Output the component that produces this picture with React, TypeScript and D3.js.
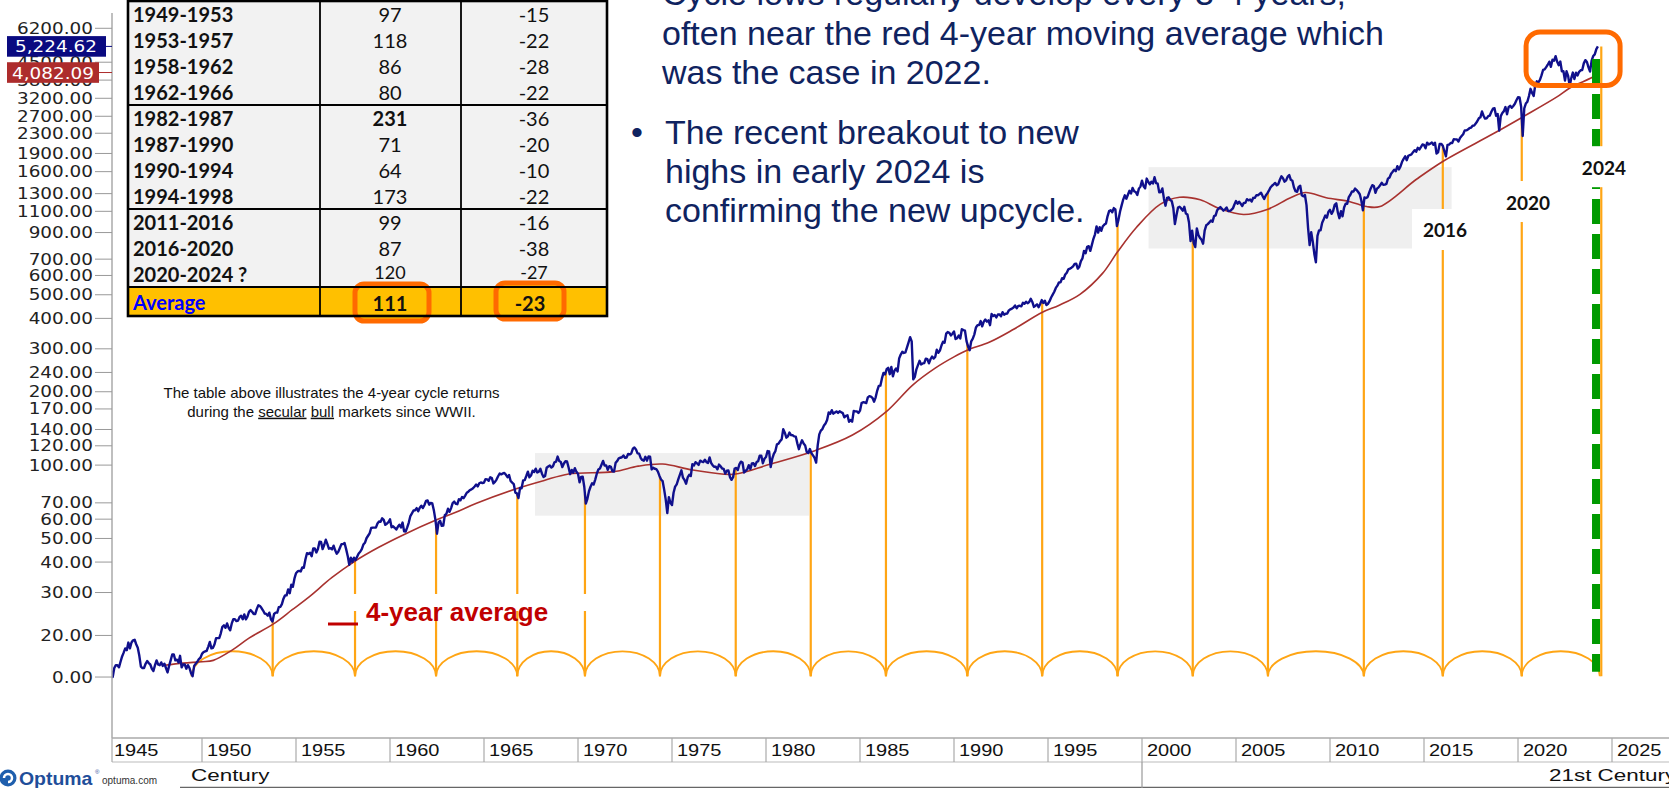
import React from "react";
import * as d3 from "d3";

const W = 1669;
const H = 788;

// ---------- S&P 500 monthly values ----------
const spx1940s = [
  13.5, 14.3, 13.5, 14.7, 15.1, 15.1, 14.8, 15.6, 16.4, 17.0, 17.7, 17.4,
  18.7, 17.7, 18.7, 19.1, 19.2, 18.4, 17.8, 16.5, 14.9, 14.7, 14.7, 15.3,
  15.7, 15.4, 15.2, 14.6, 14.3, 15.1, 15.8, 15.2, 15.1, 15.5, 15.0, 15.3,
  14.7, 14.1, 15.0, 15.8, 16.7, 16.7, 15.8, 15.9, 15.5, 16.5, 14.8, 15.2,
  15.2, 14.6, 15.1, 14.7, 14.0, 13.6, 15.0, 15.3, 15.6, 16.0, 16.2, 16.8,
];
const spx1950s = [
  17.1, 17.2, 17.3, 18.0, 18.8, 17.7, 17.8, 18.4, 19.5, 19.5, 19.5, 20.4,
  21.7, 22.0, 21.5, 22.4, 21.5, 21.0, 22.4, 23.3, 23.3, 22.9, 23.0, 23.8,
  24.1, 23.3, 24.4, 23.3, 23.9, 25.0, 25.4, 25.0, 24.5, 24.5, 25.7, 26.6,
  26.4, 25.9, 25.3, 24.6, 24.5, 24.1, 24.8, 23.3, 22.8, 24.5, 24.8, 24.8,
  26.1, 26.2, 26.9, 28.3, 29.2, 29.2, 30.9, 29.8, 32.3, 31.7, 34.2, 36.0,
  36.6, 36.8, 36.6, 38.0, 37.9, 41.0, 43.5, 43.2, 43.7, 42.3, 45.5, 45.5,
  43.8, 45.3, 48.5, 48.4, 45.2, 47.0, 49.4, 47.5, 45.4, 45.6, 45.1, 46.7,
  44.7, 43.3, 44.1, 45.7, 47.4, 47.4, 47.9, 45.2, 42.4, 39.0, 41.7, 40.0,
  41.7, 40.8, 42.1, 43.4, 44.1, 45.2, 47.2, 48.0, 50.1, 51.3, 52.5, 55.2,
  55.4, 55.4, 55.4, 57.6, 58.7, 58.5, 60.5, 59.6, 56.9, 57.5, 58.3, 59.9,
];
const spx1960s = [
  55.6, 56.1, 55.3, 54.4, 55.8, 56.9, 55.5, 58.1, 53.5, 53.4, 55.5, 58.1,
  61.8, 63.4, 65.1, 65.3, 66.6, 64.6, 66.8, 68.1, 66.7, 68.6, 71.3, 71.6,
  68.8, 70.0, 69.6, 65.2, 59.6, 52.3, 58.2, 59.1, 56.3, 56.5, 62.3, 63.1,
  66.2, 64.3, 66.6, 69.8, 70.8, 69.4, 69.1, 72.5, 71.7, 74.0, 73.2, 75.0,
  77.0, 77.8, 79.0, 79.5, 80.4, 81.7, 83.2, 81.8, 84.2, 84.9, 84.4, 84.8,
  87.6, 87.4, 86.2, 89.1, 88.4, 84.1, 85.3, 87.2, 90.0, 92.4, 91.6, 92.4,
  92.9, 91.2, 89.2, 91.1, 86.1, 84.7, 83.6, 77.1, 76.6, 73.2, 80.5, 80.3,
  86.6, 86.8, 90.2, 94.0, 89.1, 90.6, 94.8, 93.6, 96.7, 93.3, 94.0, 96.5,
  92.2, 89.4, 90.2, 97.6, 98.7, 99.6, 97.7, 98.9, 102.7, 103.4, 108.4, 103.9,
  103.0, 98.1, 101.5, 103.7, 103.5, 97.7, 91.8, 95.5, 93.1, 97.1, 93.8, 92.1,
];
const spx1970s = [
  85.0, 89.5, 89.6, 81.5, 69.5, 72.7, 78.1, 81.5, 84.2, 83.3, 87.2, 92.2,
  95.9, 96.8, 100.3, 104.0, 99.6, 99.7, 95.6, 99.0, 98.3, 94.2, 94.0, 102.1,
  103.9, 106.6, 107.2, 107.7, 109.5, 107.1, 107.4, 111.1, 110.6, 111.6, 116.7, 118.1,
  116.0, 111.7, 111.5, 107.0, 105.0, 104.3, 108.2, 104.3, 108.4, 108.3, 96.0, 97.6,
  96.6, 96.2, 94.0, 90.3, 87.3, 86.0, 79.3, 72.2, 63.5, 73.9, 70.0, 68.6,
  77.0, 81.6, 83.4, 87.3, 91.2, 95.2, 88.8, 86.9, 83.9, 89.0, 91.2, 90.2,
  100.9, 99.7, 102.8, 101.6, 100.2, 104.3, 103.4, 102.9, 105.2, 102.9, 102.1, 107.5,
  102.0, 99.8, 98.4, 98.4, 96.1, 100.5, 98.9, 96.8, 96.5, 92.3, 94.8, 95.1,
  89.3, 87.0, 89.2, 96.8, 97.3, 95.5, 100.7, 103.3, 102.5, 93.2, 94.7, 96.1,
  99.9, 96.3, 101.6, 101.8, 99.1, 102.9, 103.8, 109.3, 109.3, 101.8, 106.2, 107.9,
];
const spx1980s = [
  114.2, 113.7, 98.2, 106.3, 111.2, 114.2, 121.7, 122.4, 125.5, 127.5, 140.5, 135.8,
  129.6, 131.3, 136.0, 132.8, 132.6, 131.2, 130.9, 122.8, 116.2, 121.9, 126.4, 122.6,
  120.4, 113.1, 112.0, 116.4, 111.9, 109.6, 107.1, 102.4, 120.4, 133.7, 138.5, 140.6,
  145.3, 148.1, 153.0, 164.4, 162.4, 168.1, 162.6, 164.4, 166.1, 163.6, 166.4, 164.9,
  163.4, 157.1, 159.2, 160.1, 150.6, 153.2, 150.7, 166.7, 166.1, 166.1, 163.6, 167.2,
  179.6, 181.2, 180.7, 179.8, 189.6, 191.9, 190.9, 188.6, 182.1, 189.8, 202.2, 211.3,
  211.8, 226.9, 238.9, 235.5, 247.4, 250.8, 236.1, 252.9, 231.3, 244.0, 249.2, 242.2,
  274.1, 284.2, 291.7, 288.4, 290.1, 304.0, 318.7, 335.0, 321.8, 224.8, 230.3, 247.1,
  257.1, 267.8, 258.9, 261.3, 262.2, 273.5, 272.0, 261.5, 271.9, 279.0, 273.7, 277.7,
  297.5, 288.9, 294.9, 309.6, 320.5, 318.0, 346.1, 351.5, 349.2, 340.4, 346.0, 353.4,
];
const spx1990s = [
  329.1, 331.9, 339.9, 330.8, 361.2, 358.0, 356.2, 322.6, 306.1, 296.0, 322.2, 330.2,
  343.9, 367.1, 375.2, 375.3, 389.8, 371.2, 387.8, 395.4, 387.9, 392.5, 375.2, 417.1,
  408.8, 412.7, 403.7, 415.0, 415.4, 408.1, 424.2, 414.0, 417.8, 418.7, 431.4, 435.7,
  438.8, 443.4, 451.7, 440.2, 450.2, 450.5, 448.1, 463.6, 458.9, 467.8, 461.8, 466.5,
  481.6, 467.1, 445.8, 450.9, 456.5, 444.3, 458.3, 475.5, 462.7, 472.4, 453.7, 459.3,
  470.4, 487.4, 500.7, 514.7, 533.4, 544.8, 562.1, 561.9, 584.4, 581.5, 605.4, 615.9,
  636.0, 640.4, 645.5, 654.2, 669.1, 670.6, 640.0, 652.0, 687.3, 705.3, 757.0, 740.7,
  786.2, 790.8, 757.1, 801.3, 848.3, 885.1, 954.3, 899.5, 947.3, 914.6, 955.4, 970.4,
  980.3, 1049.3, 1101.8, 1111.8, 1090.8, 1133.8, 1120.7, 957.3, 1017.0, 1098.7, 1163.6, 1229.2,
  1279.6, 1238.3, 1286.4, 1335.2, 1301.8, 1372.7, 1328.7, 1320.4, 1282.7, 1362.9, 1388.9, 1469.3,
];
const spx2000s = [
  1394.5, 1366.4, 1498.6, 1452.4, 1420.6, 1454.6, 1430.8, 1517.7, 1436.5, 1429.4, 1315.2, 1320.3,
  1366.0, 1239.9, 1160.3, 1249.5, 1255.8, 1224.4, 1211.2, 1133.6, 975.0, 1059.8, 1139.5, 1148.1,
  1130.2, 1106.7, 1147.4, 1076.9, 1067.1, 989.8, 830.0, 916.1, 815.3, 785.0, 936.3, 879.8,
  855.7, 841.2, 810.0, 916.9, 963.6, 974.5, 990.3, 1008.0, 996.0, 1050.7, 1058.2, 1111.9,
  1131.1, 1144.9, 1126.2, 1107.3, 1120.7, 1140.8, 1101.7, 1104.2, 1114.6, 1130.2, 1173.8, 1211.9,
  1181.3, 1203.6, 1180.6, 1156.9, 1191.5, 1191.3, 1234.2, 1220.3, 1228.8, 1207.0, 1249.5, 1248.3,
  1280.1, 1280.7, 1294.9, 1310.6, 1270.1, 1235.0, 1276.7, 1303.8, 1335.9, 1377.9, 1400.6, 1418.3,
  1438.2, 1406.8, 1420.9, 1482.4, 1530.6, 1503.4, 1455.3, 1474.0, 1526.8, 1549.4, 1481.1, 1468.4,
  1378.6, 1330.6, 1322.7, 1385.6, 1400.4, 1280.0, 1267.4, 1282.8, 1166.4, 940.0, 800.0, 903.3,
  825.9, 735.1, 680.0, 872.8, 919.1, 919.3, 987.5, 1020.6, 1057.1, 1036.2, 1095.6, 1115.1,
];
const spx2010s = [
  1073.9, 1104.5, 1169.4, 1186.7, 1089.4, 1030.7, 1101.6, 1049.3, 1141.2, 1183.3, 1180.6, 1257.6,
  1286.1, 1327.2, 1325.8, 1363.6, 1345.2, 1320.6, 1292.3, 1218.9, 1110.0, 1253.3, 1246.9, 1257.6,
  1312.4, 1365.7, 1408.5, 1397.9, 1310.3, 1362.2, 1379.3, 1406.6, 1440.7, 1412.2, 1416.2, 1426.2,
  1498.1, 1514.7, 1569.2, 1597.6, 1630.7, 1606.3, 1685.7, 1633.0, 1681.6, 1756.5, 1805.8, 1848.4,
  1782.6, 1859.5, 1872.3, 1884.0, 1923.6, 1960.2, 1930.7, 2003.4, 1972.3, 2018.1, 2067.6, 2058.9,
  1995.0, 2104.5, 2067.9, 2085.5, 2107.4, 2063.1, 2103.8, 1900.0, 1920.0, 2079.4, 2080.4, 2043.9,
  1940.2, 1850.0, 2059.7, 2065.3, 2097.0, 2098.9, 2173.6, 2171.0, 2168.3, 2126.2, 2198.8, 2238.8,
  2278.9, 2363.6, 2362.7, 2384.2, 2411.8, 2423.4, 2470.3, 2471.7, 2519.4, 2575.3, 2647.6, 2673.6,
  2823.8, 2713.8, 2640.9, 2648.1, 2705.3, 2718.4, 2816.3, 2901.5, 2914.0, 2711.7, 2760.2, 2360.0,
  2704.1, 2784.5, 2834.4, 2945.8, 2752.1, 2941.8, 2980.4, 2926.5, 2976.7, 3037.6, 3141.2, 3230.8,
];
const spx2020s = [
  3225.5, 2954.2, 2240.0, 2912.4, 3044.3, 3100.3, 3271.1, 3500.3, 3363.0, 3270.0, 3621.6, 3756.1,
  3714.2, 3811.2, 3972.9, 4181.2, 4204.1, 4297.5, 4395.3, 4522.7, 4307.5, 4605.4, 4567.0, 4766.2,
  4515.6, 4373.9, 4530.4, 4131.9, 4132.2, 3785.4, 4130.3, 3955.0, 3585.6, 3872.0, 4080.1, 3839.5,
  4076.6, 3970.2, 4109.3, 4169.5, 4179.8, 4450.4, 4589.0, 4507.7, 4288.1, 4120.0, 4567.8, 4769.8,
  4845.7, 5096.3, 5224.62,
];
const decadeStartYears = [1945, 1950, 1960, 1970, 1980, 1990, 2000, 2010, 2020];
const decadeSeries = [spx1940s, spx1950s, spx1960s, spx1970s, spx1980s, spx1990s, spx2000s, spx2010s, spx2020s];

// ---------- 4-year moving average ----------
const maYears = [
  1948.0, 1949.0, 1950.0, 1950.6, 1951.6, 1952.5, 1953.8, 1954.8, 1955.7, 1956.9,
  1958.1, 1959.4, 1960.7, 1962.45, 1963.5, 1964.6, 1966.8, 1968.2, 1969.5, 1971.9,
  1973.2, 1974.5, 1976.1, 1978.3, 1980.2, 1982.6, 1984.6, 1986.4, 1987.8, 1989.0,
  1990.0, 1990.7, 1991.9, 1993.15, 1994.7, 1995.6, 1996.7, 1997.9, 1998.7, 1999.7,
  2000.96, 2002.0, 2003.1, 2004.1, 2005.4, 2006.7, 2007.9, 2008.7, 2009.8, 2011.06,
  2011.94, 2012.66, 2014.6, 2016.0, 2018.7, 2020.3, 2022.05, 2022.8, 2024.1, 2024.25,
];
const maValues = [
  15.1, 15.4, 15.6, 15.8, 17.4, 19.5, 22.3, 25.5, 28.8, 34.5,
  40.2, 46, 51.7, 59.5, 64, 69.7, 80.3, 86.5, 92, 94,
  99, 101, 95.5, 91.7, 100.8, 114.6, 132.8, 165.7, 213, 250,
  278, 296, 320, 360, 424, 453, 502, 612, 750, 944,
  1175, 1256, 1226, 1130, 1067, 1122, 1250, 1314, 1250, 1205,
  1151, 1151, 1489, 1762, 2293, 2696, 3234, 3544, 3960, 4082,
];

// ---------- cycle lows ----------
const cycleYears = [
  1949.45, 1953.76, 1958.14, 1962.45, 1966.77, 1970.37, 1974.36, 1978.39, 1982.38, 1986.38,
  1990.71, 1994.69, 1998.7, 2002.7, 2006.7, 2011.8, 2016.0, 2020.2, 2024.35,
];
const cycleLabels = ["2016", "2020", "2024"];
const cycleLabelYears = [2016.12, 2020.53, 2024.57];
const cycleLabelValues = [922, 1201, 1669];

// ---------- axes ----------
const yTickValues = [6200, 4500, 3800, 3200, 2700, 2300, 1900, 1600, 1300, 1100, 900, 700, 600, 500, 400, 300, 240, 200, 170, 140, 120, 100, 70, 60, 50, 40, 30, 20, 13.5];
const yTickLabels = ["6200.00", "4500.00", "3800.00", "3200.00", "2700.00", "2300.00", "1900.00", "1600.00", "1300.00", "1100.00", "900.00", "700.00", "600.00", "500.00", "400.00", "300.00", "240.00", "200.00", "170.00", "140.00", "120.00", "100.00", "70.00", "60.00", "50.00", "40.00", "30.00", "20.00", "0.00"];
const xTickYears = [1945, 1950, 1955, 1960, 1965, 1970, 1975, 1980, 1985, 1990, 1995, 2000, 2005, 2010, 2015, 2020, 2025];
const lastPriceLabel = "5,224.62";
const lastMaLabel = "4,082.09";
const lastPrice = 5224.62;
const lastMa = 4082.09;

// ---------- table ----------
const tablePeriods = ["1949-1953", "1953-1957", "1958-1962", "1962-1966", "1982-1987", "1987-1990", "1990-1994", "1994-1998", "2011-2016", "2016-2020", "2020-2024 ?"];
const tableGains = ["97", "118", "86", "80", "231", "71", "64", "173", "99", "87", "120"];
const tableDeclines = ["-15", "-22", "-28", "-22", "-36", "-20", "-10", "-22", "-16", "-38", "-27"];
const tableGroups = [4, 4, 3];
const avgGain = "111";
const avgDecline = "-23";

// shaded consolidation zones
const zoneStarts = [1967.71, 2000.35];
const zoneEnds = [1982.29, 2016.47];
const zoneLows = [62, 774];
const zoneHighs = [112, 1670];

const NAVY_TEXT = "#0f2360";
const ORANGE = "#FFA514";

function SText(props: any) {
  const { x, y, sx = 1, anchor = "start", children, ...rest } = props;
  return (
    <text transform={`translate(${x},${y}) scale(${sx},1)`} textAnchor={anchor} {...rest}>
      {children}
    </text>
  );
}

export default function App() {
  const x = d3.scaleLinear().domain([1950, 2000]).range([202, 1142]);
  const y = d3.scaleLog().domain([100, 1000]).range([465.1, 221.4]);

  const price: [number, number][] = [];
  decadeSeries.forEach((arr, k) => {
    arr.forEach((v, i) => price.push([decadeStartYears[k] + (i + 1) / 12, v]));
  });
  const ma: [number, number][] = maYears.map((t, i) => [t, maValues[i]]);

  const priceLine = d3.line<[number, number]>().x((d) => x(d[0])).y((d) => y(d[1]));
  const maLine = d3
    .line<[number, number]>()
    .x((d) => x(d[0]))
    .y((d) => y(d[1]))
    .curve(d3.curveCatmullRom.alpha(0.5));

  const bis = d3.bisector((d: [number, number]) => d[0]).left;
  const priceAt = (t: number) => {
    const i = bis(price, t);
    if (i <= 0) return price[0][1];
    if (i >= price.length) return price[price.length - 1][1];
    const a = price[i - 1];
    const b = price[i];
    const f = (t - a[0]) / (b[0] - a[0]);
    return Math.exp(Math.log(a[1]) * (1 - f) + Math.log(b[1]) * f);
  };

  const baseY = y(13.6);
  const arcH = 25;
  const axisX = 112;
  const plotBottom = 738;

  // table geometry
  const tX = [128, 320, 461, 607];
  const rowH = 26;
  const tTop = 1;
  const rowYs: number[] = [];
  const groupLines: number[] = [];
  let cy = tTop;
  tableGroups.forEach((n) => {
    for (let i = 0; i < n; i++) {
      rowYs.push(cy + rowH * (i + 0.5));
    }
    cy += n * rowH;
    groupLines.push(cy);
  });
  const avgTop = cy;
  const avgBottom = cy + 29;

  const tableFont = "Lato, 'Open Sans', sans-serif";
  const axisFont = "'DejaVu Sans', Verdana, sans-serif";
  const arial = "'Liberation Sans', Arial, sans-serif";

  return (
    <svg
      width={W}
      height={H}
      style={{ position: "absolute", left: 0, top: 0, background: "#fff" }}
      fontFamily={arial}
    >
      <defs>
        <clipPath id="plot">
          <rect x={axisX} y={0} width={W - axisX} height={plotBottom} />
        </clipPath>
      </defs>

      <g clipPath="url(#plot)">
        {zoneStarts.map((s, i) => (
          <rect
            key={"z" + i}
            x={x(s)}
            y={y(zoneHighs[i])}
            width={x(zoneEnds[i]) - x(s)}
            height={y(zoneLows[i]) - y(zoneHighs[i])}
            fill="#efefef"
          />
        ))}

        {cycleYears.slice(0, -1).map((t, i) => {
          const x0 = x(t);
          const x1 = x(cycleYears[i + 1]);
          const rx = (x1 - x0) / 2;
          return (
            <path
              key={"a" + i}
              d={`M${x0},${baseY} A${rx},${arcH} 0 0 1 ${x1},${baseY}`}
              fill="none"
              stroke={ORANGE}
              strokeWidth={1.8}
            />
          );
        })}
        {cycleYears.map((t, i) => (
          <line
            key={"v" + i}
            x1={x(t) + (i === cycleYears.length - 1 ? 1.5 : 0)}
            x2={x(t) + (i === cycleYears.length - 1 ? 1.5 : 0)}
            y1={baseY}
            y2={y(priceAt(t))}
            stroke={ORANGE}
            strokeWidth={2.2}
          />
        ))}

        <rect x={325} y={594} width={268} height={17} fill="#fff" />

        <path d={maLine(ma) || ""} fill="none" stroke="#a8322f" strokeWidth={1.6} />
        <path d={priceLine(price) || ""} fill="none" stroke="#10108c" strokeWidth={2.4} strokeLinejoin="round" />

        <line
          x1={x(2024.15)}
          x2={x(2024.15)}
          y1={y(4640)}
          y2={y(14.2)}
          stroke="#009a00"
          strokeWidth={8}
          strokeDasharray="25 10"
        />

        {cycleLabels.map((lab, i) => {
          const cx = x(cycleLabelYears[i]);
          const cyy = y(cycleLabelValues[i]);
          const w = i === 0 ? 68 : 48;
          return (
            <g key={"cl" + i}>
              <rect x={i === 0 ? cx - 33 : cx - w / 2} y={cyy - 21} width={w} height={41} fill="#fff" />
              <text
                x={cx}
                y={cyy}
                textAnchor="middle"
                dominantBaseline="central"
                fontFamily={tableFont}
                fontWeight={700}
                fontSize={19}
                fill="#111"
              >
                {lab}
              </text>
            </g>
          );
        })}

        <rect
          x={x(2020.43)}
          y={y(5987)}
          width={x(2025.43) - x(2020.43)}
          height={y(3612) - y(5987)}
          rx={14}
          fill="none"
          stroke="#ff6a00"
          strokeWidth={5}
        />
      </g>

      <line x1={328} x2={358} y1={624} y2={624} stroke="#c00000" strokeWidth={3} />
      <text x={366} y={621} fontSize={26} fontWeight={700} fill="#c00000">
        4-year average
      </text>

      <text x={331.5} y={398} fontSize={15} textAnchor="middle" fill="#111">
        The table above illustrates the 4-year cycle returns
      </text>
      <text x={331.5} y={416.7} fontSize={15} textAnchor="middle" fill="#111">
        during the <tspan style={{ textDecoration: "underline" }}>secular</tspan>{" "}
        <tspan style={{ textDecoration: "underline" }}>bull</tspan> markets since WWII.
      </text>

      <g fontSize={34} fill={NAVY_TEXT}>
        <text x={662} y={5}>Cycle lows regularly develop every 3-4 years,</text>
        <text x={662} y={44.5}>often near the red 4-year moving average which</text>
        <text x={662} y={84.3}>was the case in 2022.</text>
        <text x={631} y={144.3}>•</text>
        <text x={665} y={144.3}>The recent breakout to new</text>
        <text x={665} y={183.3}>highs in early 2024 is</text>
        <text x={665} y={222.3}>confirming the new upcycle.</text>
      </g>

      <g fontFamily={tableFont}>
        <rect x={tX[0]} y={tTop} width={tX[3] - tX[0]} height={avgTop - tTop} fill="#f2f2f2" />
        <rect x={tX[0]} y={avgTop} width={tX[3] - tX[0]} height={avgBottom - avgTop} fill="#ffc000" />
        <rect x={355} y={284} width={74} height={37} rx={9} fill="#ffc000" stroke="#ff6a00" strokeWidth={5} />
        <rect x={496} y={283} width={68} height={36} rx={9} fill="#ffc000" stroke="#ff6a00" strokeWidth={5} />
        {groupLines.map((gy, i) => (
          <line key={"gl" + i} x1={tX[0]} x2={tX[3]} y1={gy} y2={gy} stroke="#000" strokeWidth={2.2} />
        ))}
        {[1, 2].map((c) => (
          <line key={"vc" + c} x1={tX[c]} x2={tX[c]} y1={tTop} y2={avgBottom} stroke="#000" strokeWidth={1.8} />
        ))}
        <rect
          x={tX[0]}
          y={tTop}
          width={tX[3] - tX[0]}
          height={avgBottom - tTop}
          fill="none"
          stroke="#000"
          strokeWidth={2.6}
        />
        {tablePeriods.map((p, i) => {
          const last = i === tablePeriods.length - 1;
          return (
            <g key={"r" + i} dominantBaseline="central" fill="#111">
              <text x={133} y={rowYs[i]} fontWeight={700} fontSize={20}>
                {p}
              </text>
              <text
                x={390}
                y={rowYs[i] - (last ? 2 : 0)}
                textAnchor="middle"
                fontWeight={tableGains[i] === "231" ? 700 : 400}
                fontSize={last ? 18 : 20}
              >
                {tableGains[i]}
              </text>
              <text x={534} y={rowYs[i] - (last ? 2 : 0)} textAnchor="middle" fontSize={last ? 18 : 20}>
                {tableDeclines[i]}
              </text>
            </g>
          );
        })}
        <g dominantBaseline="central" fontWeight={700} fontSize={20}>
          <text x={133} y={(avgTop + avgBottom) / 2} fill="#0000ff">
            Average
          </text>
          <text x={390} y={(avgTop + avgBottom) / 2 + 1} textAnchor="middle" fill="#111">
            {avgGain}
          </text>
          <text x={530} y={(avgTop + avgBottom) / 2 + 1} textAnchor="middle" fill="#111">
            {avgDecline}
          </text>
        </g>
      </g>

      <line x1={axisX} x2={axisX} y1={13} y2={plotBottom} stroke="#aaa" strokeWidth={1.5} />
      {yTickValues.map((v, i) => (
        <g key={"yt" + i}>
          <line x1={95} x2={axisX} y1={y(v)} y2={y(v)} stroke="#999" strokeWidth={1} />
          <SText x={93} y={y(v) + 5.5} sx={1.15} anchor="end" fontFamily={axisFont} fontSize={16} fill="#222">
            {yTickLabels[i]}
          </SText>
        </g>
      ))}
      <rect x={7} y={y(lastPrice) - 10.3} width={99} height={20.6} fill="#0a0a80" />
      <line x1={106} x2={axisX} y1={y(lastPrice)} y2={y(lastPrice)} stroke="#0a0a80" strokeWidth={1} />
      <SText x={56} y={y(lastPrice) + 6} sx={1.15} anchor="middle" fontFamily={axisFont} fontSize={16} fill="#fff">
        {lastPriceLabel}
      </SText>
      <rect x={7} y={y(lastMa) - 10.3} width={92} height={20.6} fill="#ad2c2c" />
      <line x1={99} x2={axisX} y1={y(lastMa)} y2={y(lastMa)} stroke="#ad2c2c" strokeWidth={1} />
      <SText x={53} y={y(lastMa) + 6} sx={1.15} anchor="middle" fontFamily={axisFont} fontSize={16} fill="#fff">
        {lastMaLabel}
      </SText>

      <line x1={axisX} x2={W} y1={plotBottom} y2={plotBottom} stroke="#aaa" strokeWidth={1.5} />
      <line x1={axisX} x2={W} y1={762} y2={762} stroke="#bbb" strokeWidth={1.2} />
      <line x1={180} x2={W} y1={787.5} y2={787.5} stroke="#666" strokeWidth={1.5} />
      <line x1={axisX} x2={axisX} y1={plotBottom} y2={762} stroke="#aaa" strokeWidth={1.2} />
      <line x1={x(2000)} x2={x(2000)} y1={762} y2={788} stroke="#999" strokeWidth={1.2} />
      {xTickYears.map((yr) => (
        <g key={"xt" + yr}>
          {yr > 1945 && (
            <line x1={x(yr)} x2={x(yr)} y1={plotBottom} y2={762} stroke="#aaa" strokeWidth={1.2} />
          )}
          <SText x={Math.max(x(yr) + 5, axisX + 2)} y={756} sx={1.25} fontSize={16} fill="#111">
            {String(yr)}
          </SText>
        </g>
      ))}
      <SText x={191} y={781} sx={1.32} fontSize={17} fill="#111">
        Century
      </SText>
      <SText x={1549} y={781} sx={1.32} fontSize={17} fill="#111">
        21st Century
      </SText>

      <rect x={0} y={765} width={180} height={23} fill="#fff" />
      <circle cx={8} cy={778} r={8.5} fill="#1f5fad" />
      <path d="M4,778 a4,4 0 1,1 4,4" fill="none" stroke="#fff" strokeWidth={2.5} />
      <SText x={19} y={785} sx={1.08} fontSize={18} fontWeight={700} fill="#1f4e9a">
        Optuma
      </SText>
      <text x={95} y={774} fontSize={6} fill="#1f4e9a">
        ®
      </text>
      <text x={102} y={784} fontSize={10} fill="#333">
        optuma.com
      </text>
    </svg>
  );
}
